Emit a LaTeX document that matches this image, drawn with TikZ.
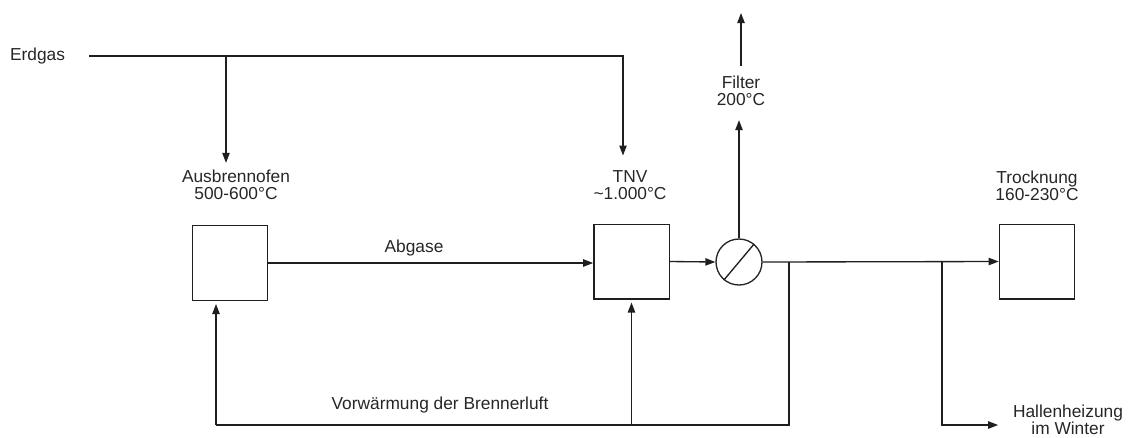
\documentclass[tikz,border=0pt]{standalone}
\usepackage{fontspec}
\setmainfont{Liberation Sans}
\usetikzlibrary{arrows.meta,calc}
\begin{document}
\begin{tikzpicture}[x=0.75pt,y=-0.75pt,
  line/.style={draw=black!88, line width=1pt},
  flow/.style={line, -{Triangle[length=7.5pt,width=5.5pt]}},
  unit/.style={draw=black!88, line width=1pt, minimum width=56.5pt, minimum height=56pt, inner sep=0pt},
  exch/.style={draw=black!85, line width=1pt, circle, minimum size=34.5pt, inner sep=0pt},
  lbl/.style={align=center, inner sep=0pt, text=black!85, font=\fontsize{13}{12.75}\selectfont}]
\useasboundingbox (0,0) rectangle (1130,437);
% nodes
\node[lbl] (erdgas) at (37.5,56) {Erdgas};
\node[unit] (ofen) at (230,263) {};
\node[unit] (tnv) at (631.5,261.5) {};
\node[unit] (trock) at (1037,261.5) {};
\node[exch] (wt) at (739,262) {};
\node[lbl] (ofenlbl) at (236,185) {Ausbrennofen\\500-600°C};
\node[lbl] (tnvlbl) at (630,185) {TNV\\\textasciitilde1.000°C};
\node[lbl] (trocklbl) at (1037,186) {Trocknung\\160-230°C};
\node[lbl] (filter) at (741,91) {Filter\\200°C};
\node[lbl] (abgase) at (414,248) {Abgase};
\node[lbl] (vorw) at (440,405) {Vorwärmung der Brennerluft};
\node[lbl, font=\fontsize{13}{11}\selectfont] (hallen) at (1068,420) {Hallenheizung\\im Winter};
% coordinates
\coordinate (e0) at (89,56);
\coordinate (e1) at (226,56);
\coordinate (e2) at (623,56);
\coordinate (j2) at (789,262);
\coordinate (j3) at (942,262);
\coordinate (b0) at (789,425);
\coordinate (b1) at (631.5,425);
\coordinate (b2) at (216,425);
\coordinate (h0) at (942,425);
\coordinate (f0) at (741,13);
% connectors
\draw[flow, shorten >=11pt] (e0) -- (e2) -- (e2 |- tnvlbl.north);
\draw[flow, shorten >=5.25pt] (e1) -- (e1 |- ofenlbl.north);
\draw[flow] (ofen.east) -- (ofen.east -| tnv.west);
\draw[flow] (tnv.east) -- (wt.west);
\draw[flow] (wt.east) -- (trock.west);
\draw[flow, shorten >=10.5pt] (wt.north) -- (wt.north |- filter.south);
\draw[flow, shorten <=7.5pt] (filter.north) -- (filter.north |- f0);
\draw[line] (j2) -- (b0) -- (b2);
\draw[flow, shorten >=2.25pt] (b2) -- (b2 |- ofen.south);
\draw[flow, shorten >=2.25pt] (b1) -- (tnv.south);
\draw[flow, shorten >=11pt] (j3) -- (h0) -- (h0 -| hallen.west);
\draw[line] (wt.230) -- (wt.50);
\end{tikzpicture}
\end{document}
